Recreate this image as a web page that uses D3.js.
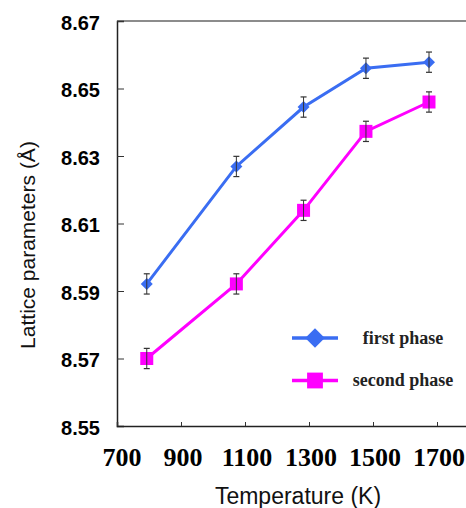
<!DOCTYPE html>
<html>
<head>
<meta charset="utf-8">
<script src="https://cdn.jsdelivr.net/npm/d3@7"></script>
<style>
  body { margin: 0; background: #fff; }
  svg { display: block; overflow: hidden; }
</style>
</head>
<body>
<div id="chart"></div>
<script>
// data
var temps = [793, 1073, 1283, 1478, 1675];
var firstPhase = [8.5921, 8.6269, 8.6445, 8.6560, 8.6578];
var secondPhase = [8.5700, 8.5921, 8.6139, 8.6373, 8.6460];
var errFirst = [0.003, 0.003, 0.003, 0.003, 0.003];
var errSecond = [0.003, 0.003, 0.003, 0.003, 0.003];
var xTicks = [700, 900, 1100, 1300, 1500, 1700];
var yTicks = [8.55, 8.57, 8.59, 8.61, 8.63, 8.65, 8.67];
var seriesNames = ["first phase", "second phase"];

function init(){
    var w = 466;
    var h = 508;

    var left = 117, top = 21, bottom = 426;

    var x = d3.scaleLinear()
              .domain([700, 1800])
              .range([left, left + 352]);

    var y = d3.scaleLinear()
              .domain([8.55, 8.67])
              .range([bottom, top]);

    var svg = d3.select("#chart")
                .append("svg")
                .attr("width", w)
                .attr("height", h);

    // top frame line
    svg.append("line")
       .attr("x1", left).attr("x2", x(1800))
       .attr("y1", top).attr("y2", top)
       .attr("stroke", "#666")
       .attr("stroke-width", 1.5);

    // y axis, ticks pointing inward
    var yAxis = svg.append("g")
                   .attr("transform", "translate(" + left + ",0)")
                   .call(d3.axisRight(y).tickValues(yTicks).tickSize(7).tickFormat(""));
    yAxis.select(".domain").attr("stroke", "#222").attr("stroke-width", 1.5);
    yAxis.selectAll(".tick line").attr("stroke", "#333");

    // x axis, ticks pointing up
    var xAxis = svg.append("g")
                   .attr("transform", "translate(0," + bottom + ")")
                   .call(d3.axisTop(x).tickValues(xTicks).tickSize(4).tickFormat(""));
    xAxis.select(".domain").attr("stroke", "#222").attr("stroke-width", 1.5);
    xAxis.selectAll(".tick line").attr("stroke", "#333");

    // y tick labels
    svg.selectAll("text.ylab")
       .data(yTicks)
       .enter()
       .append("text")
       .attr("class", "ylab")
       .attr("x", 100)
       .attr("y", function(d){ return y(d) + 1.5; })
       .attr("dy", "0.35em")
       .style("text-anchor", "end")
       .style("font-family", "'Liberation Sans', Arial, sans-serif")
       .style("font-weight", "bold")
       .style("font-size", "20px")
       .text(function(d){ return d.toFixed(2); });

    // x tick labels
    svg.selectAll("text.xlab")
       .data(xTicks)
       .enter()
       .append("text")
       .attr("class", "xlab")
       .attr("x", function(d, i){ return x(d) + (i == 0 ? 5 : 2); })
       .attr("y", 466)
       .style("text-anchor", "middle")
       .style("font-family", "'Liberation Serif', 'Times New Roman', serif")
       .style("font-weight", "bold")
       .style("font-size", "26px")
       .text(function(d){ return d; });

    // axis titles
    svg.append("text")
       .attr("transform", "translate(35,245) rotate(-90)")
       .style("text-anchor", "middle")
       .style("font-family", "'Liberation Sans', Arial, sans-serif")
       .style("font-size", "21px")
       .style("fill", "#111")
       .text("Lattice parameters (Å)");

    svg.append("text")
       .attr("x", 298)
       .attr("y", 504)
       .style("text-anchor", "middle")
       .style("font-family", "'Liberation Sans', Arial, sans-serif")
       .style("font-size", "23px")
       .style("fill", "#111")
       .text("Temperature (K)");

    // diamond = square turned 45 degrees
    var series = [
        { name: seriesNames[0], vals: firstPhase, err: errFirst, color: "#3a6df2", rot: 45, size: 72, legSize: 190 },
        { name: seriesNames[1], vals: secondPhase, err: errSecond, color: "#ff00ff", rot: 0, size: 169, legSize: 250 }
    ];

    var line = d3.line()
                 .x(function(d){ return x(d.t); })
                 .y(function(d){ return y(d.v); });

    series.forEach(function(s){
        var pts = temps.map(function(t, i){ return { t: t, v: s.vals[i], e: s.err[i] }; });

        svg.append("path")
           .datum(pts)
           .attr("d", line)
           .attr("fill", "none")
           .attr("stroke", s.color)
           .attr("stroke-width", 3);

        var g = svg.selectAll(null)
                   .data(pts)
                   .enter()
                   .append("g");

        g.append("path")
         .attr("transform", function(d){ return "translate(" + x(d.t) + "," + y(d.v) + ") rotate(" + s.rot + ")"; })
         .attr("d", d3.symbol().type(d3.symbolSquare).size(s.size))
         .attr("fill", s.color);

        // error bars
        g.append("line")
         .attr("x1", function(d){ return x(d.t); })
         .attr("x2", function(d){ return x(d.t); })
         .attr("y1", function(d){ return y(d.v - d.e); })
         .attr("y2", function(d){ return y(d.v + d.e); })
         .attr("stroke", "#333")
         .attr("stroke-width", 1);
        [-1, 1].forEach(function(sg){
            g.append("line")
             .attr("x1", function(d){ return x(d.t) - 3; })
             .attr("x2", function(d){ return x(d.t) + 3; })
             .attr("y1", function(d){ return y(d.v + sg * d.e); })
             .attr("y2", function(d){ return y(d.v + sg * d.e); })
             .attr("stroke", "#333")
             .attr("stroke-width", 1.2);
        });
    });

    // legend
    var legend = svg.selectAll("g.legend")
                    .data(series)
                    .enter()
                    .append("g")
                    .attr("class", "legend")
                    .attr("transform", function(d, i){ return "translate(0," + (338 + i * 42.5) + ")"; });

    legend.append("line")
          .attr("x1", 292).attr("x2", 338)
          .attr("y1", 0).attr("y2", 0)
          .attr("stroke", function(d){ return d.color; })
          .attr("stroke-width", 3.5);

    legend.append("path")
          .attr("transform", function(d){ return "translate(315,0) rotate(" + d.rot + ")"; })
          .attr("d", function(d){
              return d3.symbol().type(d3.symbolSquare).size(d.legSize)();
          })
          .attr("fill", function(d){ return d.color; });

    legend.append("text")
          .attr("x", 403)
          .attr("y", 0)
          .attr("dy", "0.32em")
          .style("text-anchor", "middle")
          .style("font-family", "'Liberation Serif', 'Times New Roman', serif")
          .style("font-weight", "bold")
          .style("font-size", "18px")
          .style("fill", "#222")
          .text(function(d){ return d.name; });
}

window.onload = init;
</script>
</body>
</html>
